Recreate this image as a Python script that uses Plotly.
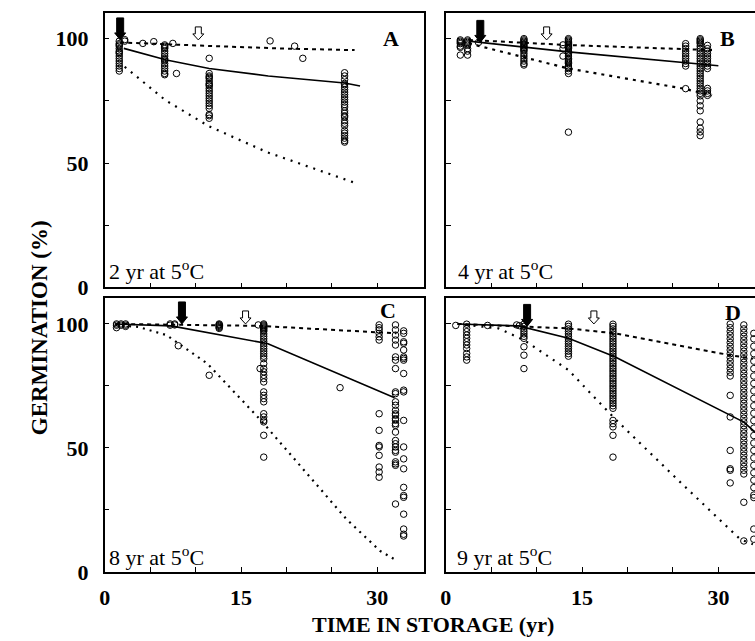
import plotly.graph_objects as go

# ---------------- DATA ----------------
# observations: (storage time in yr, list of germination % values)
A_obs = [
    (1.6, [99, 98, 97.5, 97, 96, 95, 94.5, 94, 93, 92, 91, 90, 89, 88, 87]),
    (2.2, [99.6, 99.0]),
    (4.2, [98.1]), (5.4, [98.8]), (7.5, [98.1]), (7.9, [86.0]),
    (11.5, [92.1]), (18.2, [99.1]), (20.9, [97.0]), (21.8, [92.1]),
    (6.6, [97.5, 97, 96.5, 96, 95, 94, 93, 92, 91.5, 91, 90, 89, 88, 87, 86, 85.5]),
    (11.5, [86, 85, 84.5, 84, 83, 82, 81.5, 81, 80, 79, 78, 77, 76, 75, 74, 73, 72, 69.5, 69, 68]),
    (26.4, [86.3, 85, 83.5, 82, 81.5, 80.5, 79.5, 78.5, 77.5, 76.5, 75.5, 74.5, 73.5, 72.5,
            71, 70, 69, 68.5, 67, 66, 65, 63, 62, 61, 60, 59, 58.4]),
]
B_obs = [
    (1.6, [99.5, 99, 98.5, 98, 97, 96.5, 93.4]),
    (2.4, [99.5, 99, 98.5, 98, 97.5, 96, 95, 93.4]),
    (3.6, [98.5]),
    (8.6, [100, 99.5, 99, 98.5, 98, 97.5, 97, 96.5, 96, 95.5, 95, 94, 93, 92, 91, 90, 89.4]),
    (12.9, [97.5, 96, 93]),
    (13.5, [100, 99.5, 99, 98.5, 98, 97.5, 97, 96.5, 96, 95, 94.5, 94, 93, 92, 91.5, 91, 90.5,
            90, 89, 88.5, 88, 87, 86, 62.4]),
    (26.4, [98, 97, 96, 95, 94, 93, 92, 91, 90, 89, 79.9]),
    (28.0, [100, 99.5, 99, 98.5, 98, 97, 96, 95, 94, 93, 92, 91, 90, 89, 88, 87, 86, 85, 84, 83,
            82, 81, 80, 79, 78, 77, 75, 73, 71, 66.5, 64, 62.5, 61]),
    (28.8, [97.3, 96, 95, 94, 93, 92, 91, 90, 89, 88, 80, 79, 78, 77.2]),
]
C_obs = [
    (1.3, [100, 99.5, 98.5]), (1.8, [100, 99.5]), (2.3, [100, 99.5, 99]),
    (7.2, [100, 99.5]), (7.7, [100, 99.6]), (8.1, [91.2]), (11.5, [79.3]),
    (12.6, [100, 99.7, 99.4, 99, 98.6, 98.2]),
    (16.9, [99.6]), (17.1, [82.0]),
    (17.5, [100, 99.6, 99.2, 98.8, 98.4, 98, 97.5, 97, 96, 95, 94, 93, 92, 91, 90, 89, 88, 87, 86,
            84, 82, 80.7, 79.3, 78, 76.6, 72.6, 71.2, 69.9, 68.6, 63.8, 62.5, 61.1, 60.5, 55.1, 46.3]),
    (25.9, [74.3]),
    (30.2, [99.6, 98.5, 97.6, 96.2, 94.8, 93.5, 63.8, 57.1, 51.0, 50.4, 47.0, 42.3, 40.3, 38.2]),
    (32.0, [99.6, 97.6, 95.5, 93.5, 91.5, 86.7, 85.4, 82.0, 72.6, 71.9, 68.6, 67.2, 65.2, 63.8, 63.2,
            61.8, 61.2, 59.8, 59.1, 56.4, 53.0, 51.7, 50.4, 49.0, 48.3, 44.4, 43.6, 43.0, 27.4]),
    (32.9, [97.2, 96.2, 92.8, 92.2, 89.5, 86.7, 86.1, 85.4, 80.0, 73.3, 72.6, 61.1, 50.4, 45.6,
            41.6, 34.1, 30.8, 30.1, 23.3, 17.3, 15.2, 14.5]),
]
D_obs = [
    (1.1, [99.4]),
    (2.3, [99.9, 98.2, 96.9, 95.5, 94.2, 92.8, 91.5, 90.1, 88.1, 86.7, 85.4]),
    (4.6, [99.4]), (7.8, [99.6]), (8.1, [99.3]),
    (8.6, [99.9, 99, 98, 97, 96, 95, 94.2, 90.8, 87.4, 82.0]),
    (13.5, [99.9, 99, 98, 97, 96, 95, 94, 93, 92, 91, 90, 89, 88, 87]),
    (18.4, [99.9, 99, 98, 97, 96, 95, 94, 93, 92, 91, 90, 89, 88, 87, 86, 85, 84, 83, 82, 81, 80,
            79, 78, 77, 76, 75, 74, 73, 72, 71, 70, 69, 68, 67, 66, 61.1, 59.8, 58.5, 55.1, 46.3]),
    (31.3, [100, 98.5, 97, 95.5, 94, 92.5, 91, 89.5, 88, 86.5, 85, 83.5, 82, 80.5, 79,
            71.2, 62.5, 49.0, 41.6, 41.0, 35.9]),
    (32.8, [99.6, 98, 96.5, 95, 93.5, 92, 90.5, 89, 87.5, 86, 84.5, 83, 81.5, 80, 78.5, 77, 75.5,
            74, 72.5, 71, 69.5, 68, 66.5, 65, 63.5, 62, 60.5, 59, 57.5, 56, 54.5, 53, 51.5, 50,
            48.5, 47, 45.5, 44, 42.5, 41, 39.5, 28.1, 12.5]),
    (33.9, [96.2, 94, 91, 88, 85, 82, 79, 76, 73, 70, 67, 64, 61, 58, 55, 52, 49, 46, 43, 40,
            37, 34, 31, 30, 17.3, 13.2]),
]

# fitted curves (upper, median, lower)
A_up_x, A_up_y = [1.7, 7, 12, 20, 27.5], [98.5, 97.6, 97.0, 96.0, 95.4]
A_mid_x, A_mid_y = [2.1, 6.8, 11.5, 18, 26.4, 28.1], [96.1, 91.4, 88.0, 85.0, 82.2, 81.0]
A_low_x, A_low_y = [2.2, 6.7, 11.5, 17.9, 27.4], [88.7, 75.2, 64.7, 54.3, 42.2]

B_up_x, B_up_y = [2.55, 13.1, 29.3], [99.5, 97.5, 95.4]
B_mid_x, B_mid_y = [2.55, 13.5, 30.0], [99.0, 94.7, 89.1]
B_low_x, B_low_y = [2.55, 13.5, 26.2, 29.3], [98.1, 88.0, 79.9, 77.2]

C_up_x, C_up_y = [1.15, 17.2, 32.1], [100, 99.2, 96.2]
C_mid_x, C_mid_y = [1.15, 7.3, 17.9, 31.9], [100, 99.2, 92.1, 70.2]
C_low_x = [1.15, 3.7, 6.8, 11.3, 17.2, 26.6, 30.3, 31.9]
C_low_y = [99.6, 98.8, 95.5, 84.0, 61.1, 21.3, 8.5, 5.1]

D_up_x, D_up_y = [1.3, 13.5, 18.6, 31.3, 33.8], [100, 98.2, 96.2, 87.4, 86.0]
D_mid_x, D_mid_y = [1.3, 8.0, 13.5, 18.6, 32.8, 34.0], [100, 99.2, 94.2, 86.8, 60.4, 56.5]
D_low_x = [1.3, 5.8, 8.6, 13.5, 18.6, 26.2, 32.4, 33.8]
D_low_y = [100, 98.2, 93.5, 81.4, 61.8, 34.8, 13.2, 11.2]

# arrows: filled and open, per panel A-D
arrow_filled_x = [1.7, 3.8, 8.5, 8.95]
arrow_filled_tip = [99.5, 98.5, 100.0, 99.0]
arrow_open_x = [10.3, 11.1, 15.5, 16.3]
arrow_open_tip = [99.5, 99.5, 100.0, 100.0]

panel_letters = ["A", "B", "C", "D"]
panel_conditions = ["2 yr at 5<sup>o</sup>C", "4 yr at 5<sup>o</sup>C",
                    "8 yr at 5<sup>o</sup>C", "9 yr at 5<sup>o</sup>C"]
x_major = [0, 15, 30]
x_minor = [5, 10, 20, 25, 35]
y_major = [0, 50, 100]
y_minor = [25, 75]

# ---------------- FIGURE ----------------
W, H = 755, 641          # reference picture size (positions below are read in it)
FIG_H = 657              # figure height (photographed picture is fitted to 641)


def sx(p):
    return p / W


def sy(p):
    return 1 - p / H


serif = "Liberation Serif"
fig = go.Figure()

panels = [
    (A_obs, (A_up_x, A_up_y), (A_mid_x, A_mid_y), (A_low_x, A_low_y), "2px,6px"),
    (B_obs, (B_up_x, B_up_y), (B_mid_x, B_mid_y), (B_low_x, B_low_y), "3px,5px"),
    (C_obs, (C_up_x, C_up_y), (C_mid_x, C_mid_y), (C_low_x, C_low_y), "2px,5px"),
    (D_obs, (D_up_x, D_up_y), (D_mid_x, D_mid_y), (D_low_x, D_low_y), "2px,6px"),
]
axn = ["", "2", "3", "4"]

for i, (obs, up, mid, low, lowdash) in enumerate(panels):
    xa, ya = "x" + axn[i], "y" + axn[i]
    px, py = [], []
    for t, vals in obs:
        for v in vals:
            px.append(t)
            py.append(v)
    fig.add_trace(go.Scatter(x=px, y=py, mode="markers", xaxis=xa, yaxis=ya,
                             marker=dict(symbol="circle-open", size=6.5, color="black",
                                         line=dict(width=1, color="black"))))
    fig.add_trace(go.Scatter(x=up[0], y=up[1], mode="lines", xaxis=xa, yaxis=ya,
                             line=dict(color="black", width=2, dash="4px,4px")))
    fig.add_trace(go.Scatter(x=mid[0], y=mid[1], mode="lines", xaxis=xa, yaxis=ya,
                             line=dict(color="black", width=1.6)))
    fig.add_trace(go.Scatter(x=low[0], y=low[1], mode="lines", xaxis=xa, yaxis=ya,
                             line=dict(color="black", width=2.2, dash=lowdash)))

# arrows as pixel-sized paths anchored at data positions
filled_path = "M0,0 L-5.5,7 L-3.5,7 L-3.5,22 L3.5,22 L3.5,7 L5.5,7 Z"
open_path = "M0,0 L-5.5,6 L-3,6 L-3,13 L3,13 L3,6 L5.5,6 Z"
shapes = []
for i in range(4):
    xr, yr = "x" + axn[i], "y" + axn[i]
    shapes.append(dict(type="path", xref=xr, yref=yr, xsizemode="pixel", ysizemode="pixel",
                       xanchor=arrow_filled_x[i], yanchor=arrow_filled_tip[i], path=filled_path,
                       fillcolor="black", line=dict(color="black", width=1)))
    shapes.append(dict(type="path", xref=xr, yref=yr, xsizemode="pixel", ysizemode="pixel",
                       xanchor=arrow_open_x[i], yanchor=arrow_open_tip[i], path=open_path,
                       fillcolor="white", line=dict(color="black", width=1)))

tickfont = dict(family=serif, size=22, color="black", weight="bold")
left_dom = [sx(99.5), sx(421)]
right_dom = [sx(443.3), 1.0]
top_dom = [sy(286), sy(13)]
bot_dom = [sy(569.3), sy(297)]
minor_style = dict(ticks="inside", ticklen=5, tickwidth=1, tickcolor="black", showgrid=False)


def xaxis(dom, rng, labels, anchor):
    return dict(domain=dom, range=rng, anchor=anchor, showline=True, linecolor="black",
                linewidth=1.5, mirror=True, ticks="inside", ticklen=5, tickwidth=1,
                tickcolor="black", tickmode="array", tickvals=x_major,
                minor=dict(tickvals=x_minor, **minor_style),
                showticklabels=labels, tickfont=tickfont, showgrid=False, zeroline=False,
                ticklabelstandoff=5)


def yaxis(dom, labels, mirror, anchor):
    return dict(domain=dom, range=[0, 110.3], anchor=anchor, showline=True, linecolor="black",
                linewidth=1.5, mirror=mirror, ticks="inside", ticklen=5, tickwidth=1,
                tickcolor="black", tickmode="array", tickvals=y_major,
                minor=dict(tickvals=y_minor, **minor_style),
                showticklabels=labels, tickfont=tickfont, showgrid=False, zeroline=False,
                ticklabelstandoff=10)


rmax = (W - 443.3) / (321.5 / 35.1)
fig.update_layout(
    width=W, height=FIG_H, margin=dict(l=0, r=0, t=0, b=0),
    paper_bgcolor="white", plot_bgcolor="white", showlegend=False,
    xaxis=xaxis(left_dom, [0, 35.1], False, "y"),
    yaxis=yaxis(top_dom, True, True, "x"),
    xaxis2=xaxis(right_dom, [0, rmax], False, "y2"),
    yaxis2=yaxis(top_dom, False, False, "x2"),
    xaxis3=xaxis(left_dom, [0, 35.1], True, "y3"),
    yaxis3=yaxis(bot_dom, True, True, "x3"),
    xaxis4=xaxis(right_dom, [0, rmax], True, "y4"),
    yaxis4=yaxis(bot_dom, False, False, "x4"),
    shapes=shapes,
)

ann = []
letter_pos = [(388, 38), (727, 38), (385, 309), (733, 311)]
for (lx, ly), L in zip(letter_pos, panel_letters):
    ann.append(dict(x=sx(lx), y=sy(ly), xref="paper", yref="paper", text=L, showarrow=False,
                    font=dict(family=serif, size=22, color="black", weight="bold"),
                    xanchor="center", yanchor="middle"))
cond_pos = [(102, 269), (454, 269), (102, 553), (453, 553)]
for (cx, cy), txt in zip(cond_pos, panel_conditions):
    ann.append(dict(x=sx(cx), y=sy(cy), xref="paper", yref="paper", text=txt, showarrow=False,
                    font=dict(family=serif, size=22, color="black"),
                    xanchor="left", yanchor="middle"))
ann.append(dict(x=sx(430), y=sy(622), xref="paper", yref="paper",
                text="TIME IN STORAGE (yr)", showarrow=False,
                font=dict(family=serif, size=22, color="black", weight="bold"),
                xanchor="center", yanchor="middle"))
ann.append(dict(x=sx(34), y=sy(326), xref="paper", yref="paper",
                text="GERMINATION (%)", showarrow=False, textangle=-90,
                font=dict(family=serif, size=23, color="black", weight="bold"),
                xanchor="center", yanchor="middle"))
fig.update_layout(annotations=ann)

# place the figure at the page origin (no default body margin, no scrollbars)
fig.write_html("out.html", config={"displayModeBar": False},
               post_script="document.body.style.margin='0';"
                           "document.body.style.overflow='hidden';")
